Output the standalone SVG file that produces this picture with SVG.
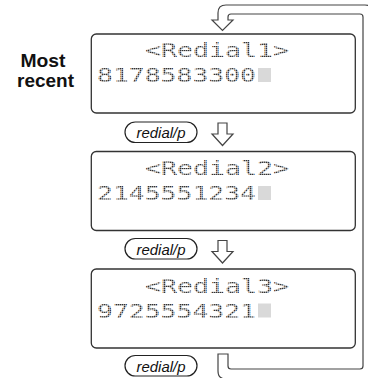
<svg xmlns="http://www.w3.org/2000/svg" width="368" height="378" viewBox="0 0 368 378">
  <defs>
    <pattern id="dots" patternUnits="userSpaceOnUse" width="2" height="2">
      <rect x="0" y="0" width="1.5" height="1.5" fill="#333"/>
    </pattern>
  </defs>
  <style>
    .box { fill: #fff; stroke: #333; stroke-width: 1.3; }
    .pill { fill: #fff; stroke: #222; stroke-width: 1.2; }
    .arrow { fill: #fff; stroke: #444; stroke-width: 1.2; stroke-linejoin: miter; }
    .lcd { font-family: "DejaVu Sans Mono", "Liberation Mono", monospace; font-size: 20px; fill: url(#dots); }
    .cursor { fill: #d9d9d9; }
    .key { font-family: "Liberation Sans", Arial, sans-serif; font-style: italic; font-size: 14.5px; fill: #111; text-anchor: middle; }
    .label { font-family: "Liberation Sans", Arial, sans-serif; font-weight: bold; font-size: 19px; fill: #111; }
  </style>

  <g id="connectors">
    <path class="arrow" d="M218,354 L228,354 L228,366 Q228,369 231,369 L360,369 Q363,369 363,366 L363,17 Q363,14 360,14 L231,14 Q228,14 228,17 L228,20 L233,20 L222.5,30.5 L212,20 L218,20 L218,13 Q218,5 226,5 L365,5 Q373,5 373,13 L373,371 Q373,379 365,379 L226,379 Q218,379 218,371 Z"/>
    <path class="arrow" d="M218,123 L227,123 L227,134 L233,134 L222.5,145.5 L212,134 L218,134 Z"/>
    <path class="arrow" d="M218,240.5 L227,240.5 L227,251.5 L233,251.5 L222.5,263 L212,251.5 L218,251.5 Z"/>
  </g>

  <g id="label-most-recent">
    <text class="label" x="20.5" y="66.5" textLength="45" lengthAdjust="spacingAndGlyphs">Most</text>
    <text class="label" x="17" y="86.5" textLength="57" lengthAdjust="spacingAndGlyphs">recent</text>
  </g>

  <g id="redial1">
    <rect class="box" x="91.3" y="34" width="264" height="79" rx="5"/>
    <text class="lcd" x="145" y="57" textLength="144" lengthAdjust="spacingAndGlyphs">&lt;Redial1&gt;</text>
    <text class="lcd" x="97" y="82" textLength="159" lengthAdjust="spacingAndGlyphs">8178583300</text>
    <rect class="cursor" x="258" y="68" width="13" height="14"/>
  </g>

  <g id="key1">
    <rect class="pill" x="125" y="122" width="72" height="20.5" rx="10.25"/>
    <text class="key" x="161" y="138" textLength="49" lengthAdjust="spacingAndGlyphs">redial/p</text>
  </g>

  <g id="redial2">
    <rect class="box" x="91.3" y="151.5" width="264" height="79" rx="5"/>
    <text class="lcd" x="145" y="175" textLength="144" lengthAdjust="spacingAndGlyphs">&lt;Redial2&gt;</text>
    <text class="lcd" x="97" y="200" textLength="159" lengthAdjust="spacingAndGlyphs">2145551234</text>
    <rect class="cursor" x="258" y="186" width="13" height="14"/>
  </g>

  <g id="key2">
    <rect class="pill" x="125" y="238.5" width="72" height="20.5" rx="10.25"/>
    <text class="key" x="161" y="254.5" textLength="49" lengthAdjust="spacingAndGlyphs">redial/p</text>
  </g>

  <g id="redial3">
    <rect class="box" x="91.3" y="269" width="264" height="79" rx="5"/>
    <text class="lcd" x="145" y="292.5" textLength="144" lengthAdjust="spacingAndGlyphs">&lt;Redial3&gt;</text>
    <text class="lcd" x="97" y="317.5" textLength="159" lengthAdjust="spacingAndGlyphs">9725554321</text>
    <rect class="cursor" x="258" y="303.5" width="13" height="14"/>
  </g>

  <g id="key3">
    <rect class="pill" x="125" y="355.5" width="72" height="20.5" rx="10.25"/>
    <text class="key" x="161" y="371.5" textLength="49" lengthAdjust="spacingAndGlyphs">redial/p</text>
  </g>
</svg>
